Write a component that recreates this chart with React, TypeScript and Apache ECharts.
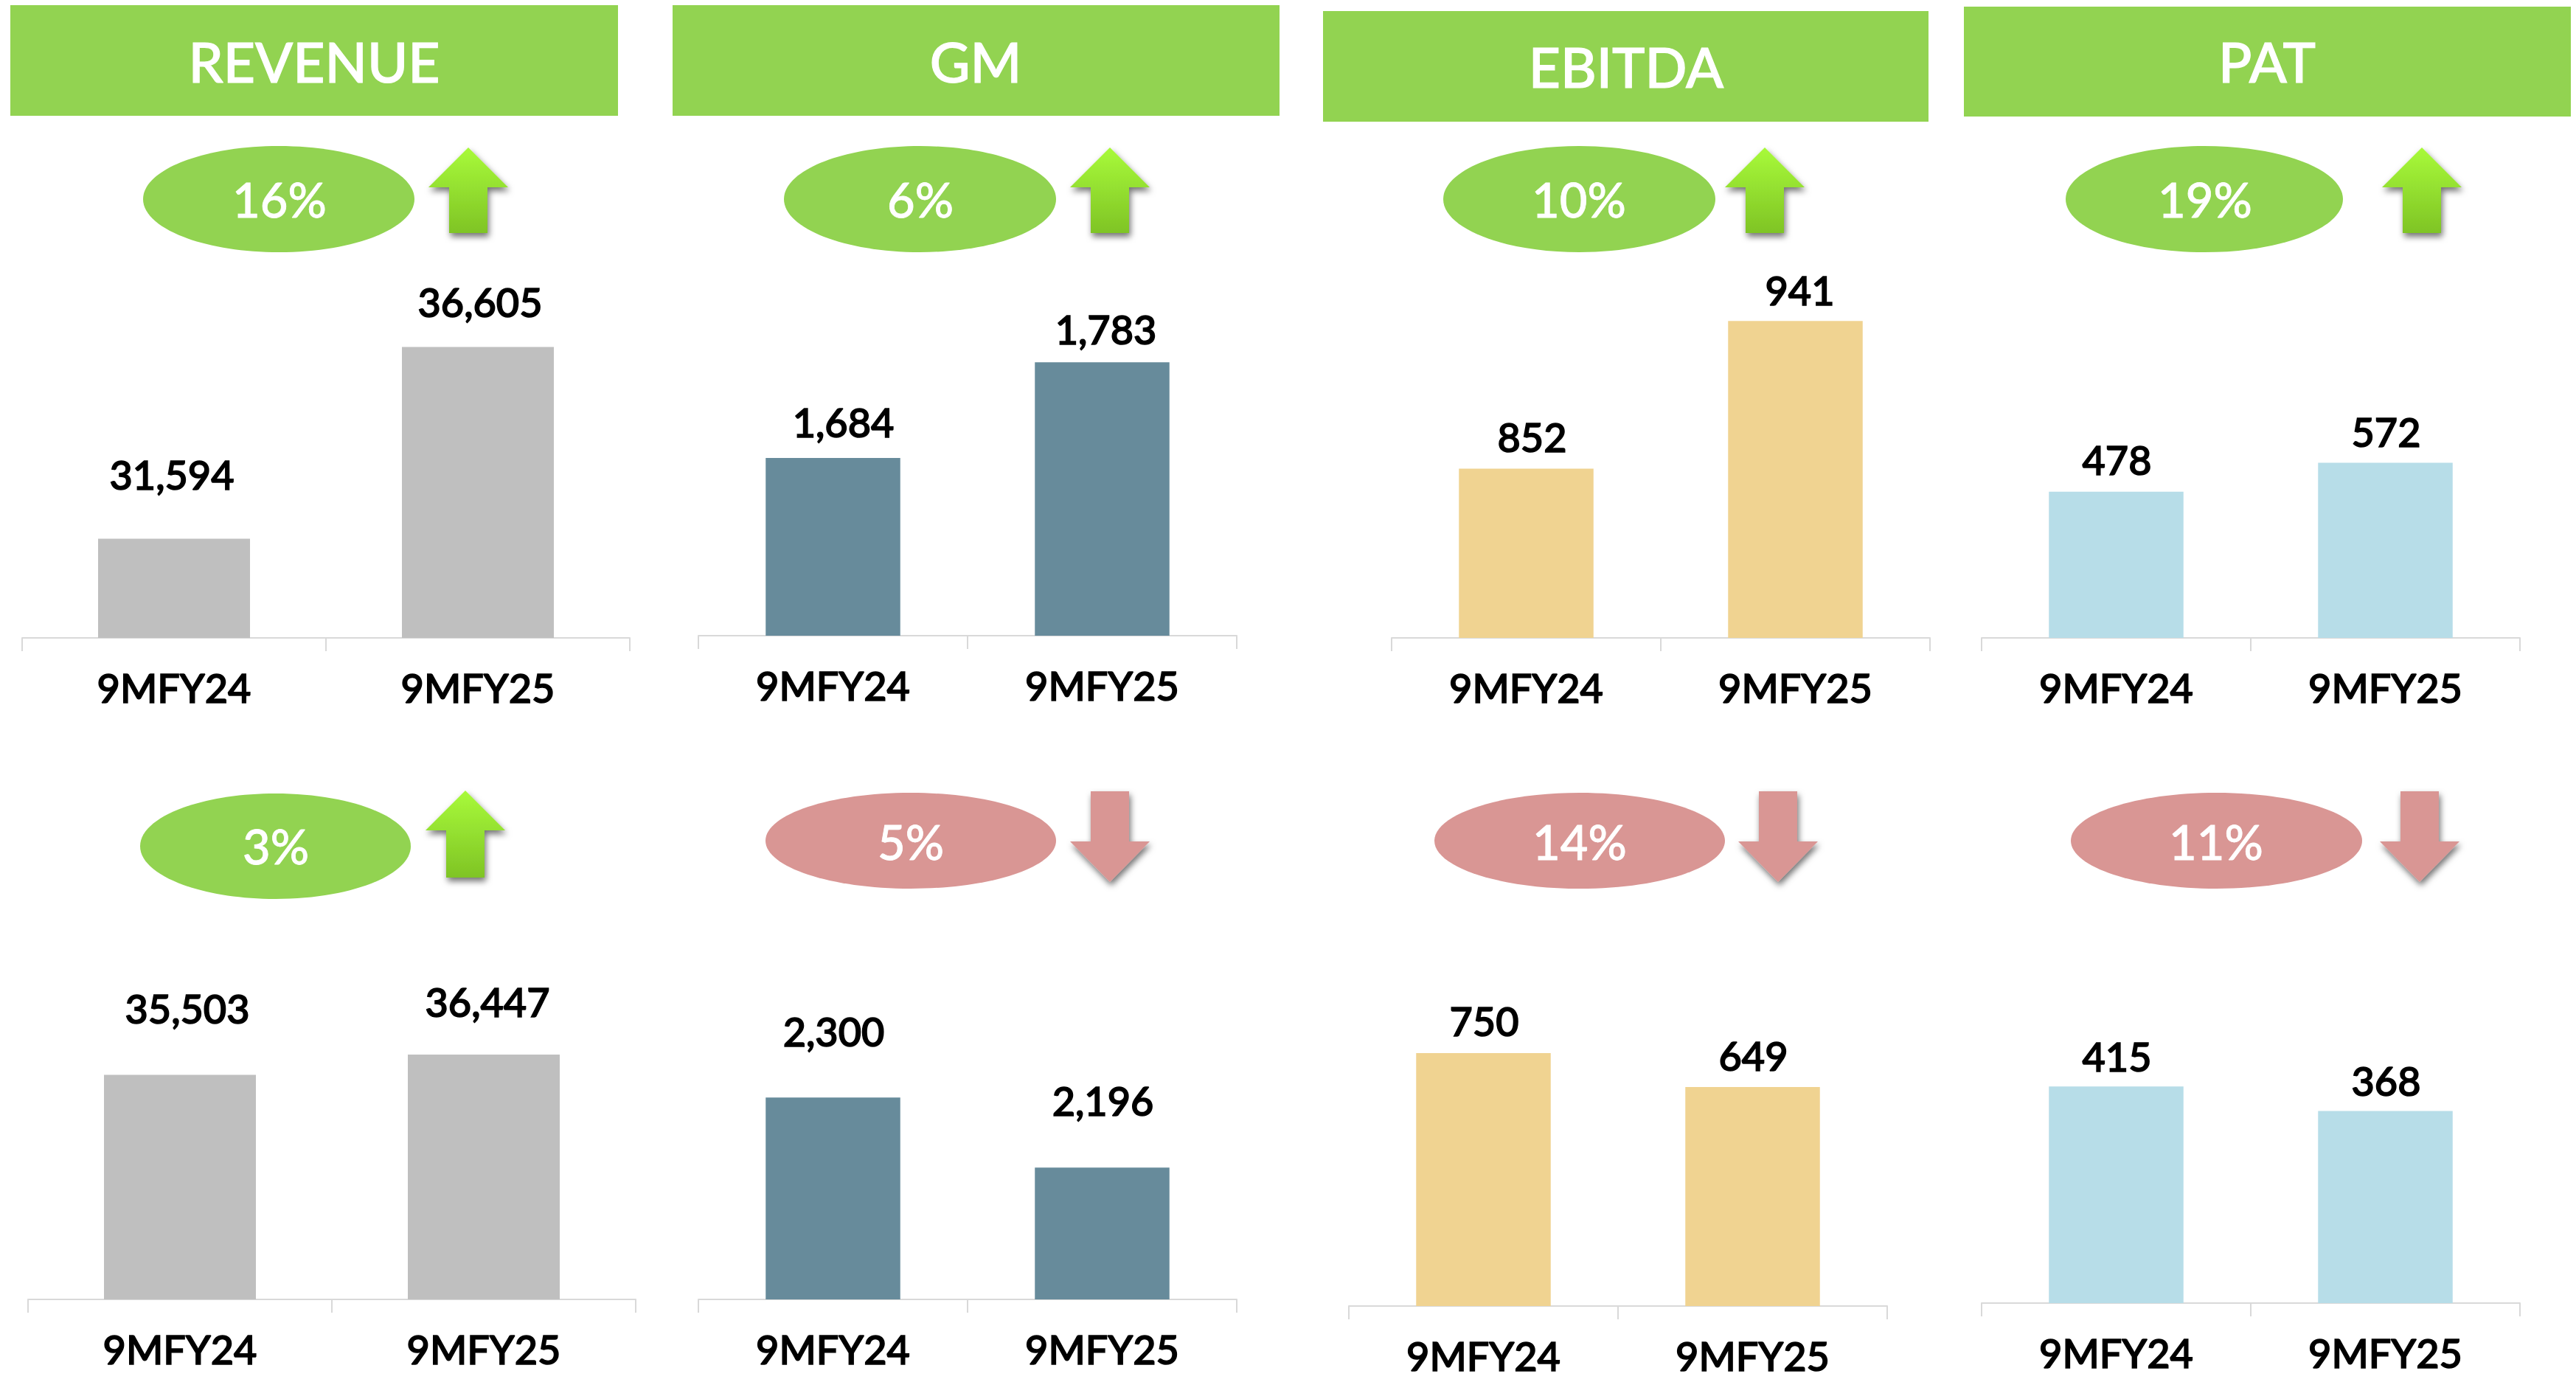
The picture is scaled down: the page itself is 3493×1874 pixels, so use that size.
import React, { useEffect, useRef } from "react";
import * as echarts from "echarts";

// ---- data ----
const categories = ["9MFY24", "9MFY25"];
const titles = ["REVENUE", "GM", "EBITDA", "PAT"];
const revenueTop = [31594, 36605];
const gmTop = [1684, 1783];
const ebitdaTop = [852, 941];
const patTop = [478, 572];
const revenueBottom = [35503, 36447];
const gmBottom = [2300, 2196];
const ebitdaBottom = [750, 649];
const patBottom = [415, 368];
const changeLabels = ["16%", "6%", "10%", "19%", "3%", "5%", "14%", "11%"];
const changeDirections = ["up", "up", "up", "up", "up", "down", "down", "down"];

// ---- layout (px in the 3493x1874 page) ----
const GREEN = "#92d351";
const PINK = "#d99694";
const FONT = "Lato";
const seriesValues = [revenueTop, gmTop, ebitdaTop, patTop, revenueBottom, gmBottom, ebitdaBottom, patBottom];
const barColors = ["#bfbfbf", "#678b9b", "#f0d391", "#b7dde8", "#bfbfbf", "#678b9b", "#f0d391", "#b7dde8"];
const axisRanges = [
  [29000, 38000], [1500, 1800], [750, 950], [0, 600],
  [25000, 37000], [2000, 2400], [0, 800], [0, 500],
];
// left, right, top, baseline of each plot
const plots = [
  [30, 854, 398, 865], [947, 1677, 469, 862], [1887, 2617, 415, 865], [2687, 3417, 616, 865],
  [38, 862, 1414, 1762], [947, 1677, 1397, 1762], [1829, 2559, 1405, 1771], [2687, 3417, 1413, 1767],
];
// per-label nudge [dx, dy] from the top of each bar
const labelNudges = [
  [[-3, -60], [3, -34]], [[14, -21], [5, -18]], [[8, -16], [6, -15]], [[1, -16], [1, -15]],
  [[10, -63], [5, -45]], [[1, -63], [1, -64]], [[1, -16], [1, -16]], [[1, -14], [1, -14]],
];
const headers = [
  [14, 838, 7, 157, 426, 83], [912, 1735, 7, 157, 1323, 83],
  [1794, 2615, 15, 165, 2205, 90], [2663, 3486, 9, 158, 3074, 83],
];
// ellipse x0,x1,y0,y1, text centre x,y, arrow x0,y0,y1
const badges = [
  [194, 562, 198, 342, 379, 270, 581, 200, 316],
  [1063, 1432, 198, 342, 1248, 270, 1451, 200, 316],
  [1957, 2326, 198, 342, 2141, 270, 2339, 200, 316],
  [2801, 3177, 198, 342, 2990, 270, 3230, 200, 316],
  [190, 557, 1076, 1219, 374, 1147, 577, 1072, 1190],
  [1038, 1432, 1075, 1205, 1235, 1141, 1451, 1073, 1196],
  [1945, 2339, 1075, 1205, 2142, 1141, 2357, 1073, 1196],
  [2808, 3203, 1075, 1205, 3005, 1141, 3227, 1073, 1196],
];

const shadow = { shadowBlur: 8, shadowColor: "rgba(0,0,0,0.55)", shadowOffsetX: 2, shadowOffsetY: 5 };

function arrow(x: number, y0: number, y1: number, dir: string) {
  const w = 108;
  const sL = x + 28, sR = x + 80, c = x + w / 2;
  if (dir === "up") {
    const head = y0 + 54;
    return {
      type: "polygon", z: 3,
      shape: { points: [[c, y0], [x + w, head], [sR, head], [sR, y1], [sL, y1], [sL, head], [x, head]] },
      style: {
        fill: new echarts.graphic.LinearGradient(0, 0, 0, 1, [
          { offset: 0, color: "#a8fa3a" }, { offset: 1, color: "#7fc425" },
        ]),
        ...shadow,
      },
    };
  }
  const head = y1 - 55;
  return {
    type: "polygon", z: 3,
    shape: { points: [[sL, y0], [sR, y0], [sR, head], [x + w, head], [c, y1], [x, head], [sL, head]] },
    style: { fill: PINK, ...shadow },
  };
}

export default function App() {
  const ref = useRef<HTMLDivElement>(null);
  useEffect(() => {
    document.body.style.margin = "0";
    const chart = echarts.init(ref.current!, undefined, { renderer: "svg" });
    const graphic: any[] = [];
    headers.forEach((h, i) => {
      graphic.push({ type: "rect", shape: { x: h[0], y: h[2], width: h[1] - h[0], height: h[3] - h[2] }, style: { fill: GREEN } });
      graphic.push({
        type: "text", z: 4, x: h[4], y: h[5],
        style: { text: titles[i], fill: "#fff", stroke: "#fff", lineWidth: 1.2, font: `500 75px ${FONT}`, align: "center", verticalAlign: "middle" },
      });
    });
    badges.forEach((b, i) => {
      const dir = changeDirections[i];
      graphic.push({
        type: "ellipse",
        shape: { cx: (b[0] + b[1]) / 2, cy: (b[2] + b[3]) / 2, rx: (b[1] - b[0]) / 2, ry: (b[3] - b[2]) / 2 },
        style: { fill: dir === "up" ? GREEN : PINK },
      });
      graphic.push({
        type: "text", z: 4, x: b[4], y: b[5],
        style: { text: changeLabels[i], fill: "#fff", stroke: "#fff", lineWidth: 0.8, font: `500 65px ${FONT}`, align: "center", verticalAlign: "middle" },
      });
      graphic.push(arrow(b[6], b[7], b[8], dir));
    });

    chart.setOption({
      animation: false,
      backgroundColor: "#ffffff",
      grid: plots.map((p) => ({ left: p[0], width: p[1] - p[0], top: p[2], height: p[3] - p[2], containLabel: false })),
      xAxis: plots.map((_, i) => ({
        type: "category", gridIndex: i, data: categories,
        axisLine: { show: true, lineStyle: { color: "#d9d9d9", width: 2 } },
        axisTick: { show: true, length: 18, interval: 0, lineStyle: { color: "#d9d9d9", width: 2 } },
        axisLabel: {
          show: true, margin: 40, interval: 0, color: "#000", fontFamily: FONT, fontSize: 54, fontWeight: 500,
          textBorderColor: "#000", textBorderWidth: 1.6,
        },
        splitLine: { show: false },
      })),
      yAxis: plots.map((_, i) => ({
        type: "value", gridIndex: i, show: false, min: axisRanges[i][0], max: axisRanges[i][1], splitLine: { show: false },
      })),
      series: seriesValues.map((vals, i) => ({
        type: "bar", xAxisIndex: i, yAxisIndex: i, barWidth: "50%",
        itemStyle: { color: barColors[i] },
        data: vals.map((v, j) => ({
          value: v,
          label: {
            show: true, position: "top", distance: 0, offset: labelNudges[i][j],
            formatter: (p: any) => Number(p.value).toLocaleString("en-US"),
            color: "#000", fontFamily: FONT, fontSize: 54, fontWeight: 500,
            textBorderColor: "#000", textBorderWidth: 1.6,
          },
        })),
      })),
      graphic,
    });
    return () => chart.dispose();
  }, []);
  return <div ref={ref} style={{ position: "fixed", left: 0, top: 0, width: 3493, height: 1874 }} />;
}
